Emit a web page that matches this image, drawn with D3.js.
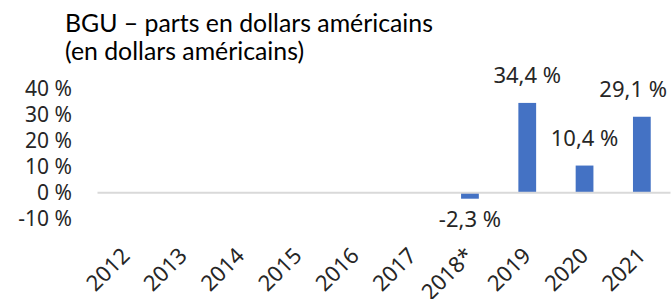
<!DOCTYPE html>
<html>
<head>
<meta charset="utf-8">
<script src="https://cdn.jsdelivr.net/npm/d3@7/dist/d3.min.js"></script>
<style>
	html, body { margin: 0; padding: 0; background: #fff; }
	svg { display: block; }
	.tick-label { font-family: "Noto Sans", "Open Sans", sans-serif; fill: #262626; }
	.title { font-family: "Lato", "Noto Sans", sans-serif; fill: #000; }
</style>
</head>
<body>
<svg id="chart" width="671" height="299"></svg>
<script>
(function() {
	'use strict';

	var titleLines = ['BGU \u2013 parts en dollars américains', '(en dollars américains)'];
	var years = ['2012', '2013', '2014', '2015', '2016', '2017', '2018*', '2019', '2020', '2021'];
	var values = [null, null, null, null, null, null, -2.3, 34.4, 10.4, 29.1];
	var yTicks = [40, 30, 20, 10, 0, -10];

	var width = 671;
	var svg = d3.select('#chart');

	var fmt = function(v) {
		return v.toFixed(1).replace('.', ',') + ' %';
	};

	// titre
	var title = svg.append('g');
	title.selectAll('text')
		.data(titleLines)
		.enter().append('text')
		.attr('class', 'title')
		.attr('x', 65)
		.attr('y', function(d, i) { return 32 + i * 28; })
		.style('font-size', '22px')
		.text(function(d) { return d; });
	var firstLine = title.select('text').node();
	var fitSize = 22 * 368 / firstLine.getComputedTextLength();
	title.selectAll('text').style('font-size', fitSize + 'px');

	var x = d3.scaleBand()
		.domain(years)
		.range([97.5, 670.5])
		.paddingInner(0.69)
		.paddingOuter(0.345);

	var y = d3.scaleLinear()
		.domain([-10, 40])
		.range([218.8, 88.3]);

	// axe y (labels seulement)
	svg.append('g')
		.selectAll('text')
		.data(yTicks)
		.enter().append('text')
		.attr('class', 'tick-label')
		.attr('x', 72)
		.attr('y', function(d) { return y(d); })
		.attr('dy', '0.36em')
		.attr('text-anchor', 'end')
		.style('font-size', '21px')
		.text(function(d) { return d + ' %'; });

	// barres
	var data = years.map(function(yr, i) { return { year : yr, value : values[i] }; })
		.filter(function(d) { return d.value !== null; });

	svg.append('g')
		.selectAll('rect')
		.data(data)
		.enter().append('rect')
		.attr('x', function(d) { return x(d.year); })
		.attr('width', x.bandwidth())
		.attr('y', function(d) { return y(Math.max(0, d.value)); })
		.attr('height', function(d) { return Math.abs(y(d.value) - y(0)); })
		.attr('fill', '#4472C4');

	// ligne du zéro
	svg.append('line')
		.attr('x1', x.range()[0])
		.attr('x2', x.range()[1])
		.attr('y1', y(0))
		.attr('y2', y(0))
		.attr('stroke', '#D9D9D9')
		.attr('stroke-width', 2);

	// étiquettes de données
	var labels = svg.append('g')
		.selectAll('text')
		.data(data)
		.enter().append('text')
		.attr('class', 'tick-label')
		.attr('text-anchor', 'middle')
		.style('font-size', '22px')
		.attr('x', function(d) { return x(d.year) + x.bandwidth() / 2; })
		.attr('y', function(d) {
			return d.value >= 0 ? y(d.value) - 20 : y(d.value) + 28;
		})
		.text(function(d) { return fmt(d.value); });

	labels.each(function() {
		var w = this.getComputedTextLength();
		var cx = +this.getAttribute('x');
		if (cx + w / 2 > width - 4) {
			d3.select(this).attr('x', width - 4 - w / 2);
		}
	});

	// axe x, étiquettes pivotées
	svg.append('g')
		.selectAll('text')
		.data(years)
		.enter().append('text')
		.attr('class', 'tick-label')
		.attr('text-anchor', 'end')
		.style('font-size', '22px')
		.attr('transform', function(d) {
			return 'translate(' + (x(d) + x.bandwidth() / 2 + 5) + ',257) rotate(-45)';
		})
		.text(function(d) { return d; });
})();
</script>
</body>
</html>
